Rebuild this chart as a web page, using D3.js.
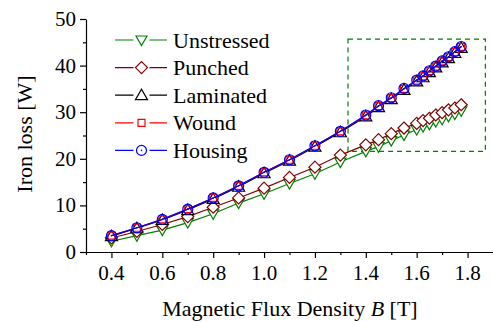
<!DOCTYPE html>
<html>
<head>
<meta charset="utf-8">
<script src="https://cdn.jsdelivr.net/npm/d3@7"></script>
<style>
  svg, svg text, svg tspan { font-family: 'Liberation Serif', 'Times New Roman', serif !important; }
</style>
</head>
<body style="margin:0">
<svg id="c" width="493" height="322" font-family="Liberation Serif"></svg>
<script>
// flux density values (T)
var fluxB = [0.4, 0.5, 0.6, 0.7, 0.8, 0.9, 1.0, 1.1, 1.2, 1.3, 1.4, 1.45, 1.5, 1.55, 1.6, 1.625, 1.65, 1.675, 1.7, 1.725, 1.75, 1.775];

// iron loss (W) per condition
var unstressed = [2.3, 3.5, 4.7, 6.3, 8.2, 10.5, 12.5, 14.7, 16.8, 19.3, 21.6, 22.6, 23.9, 25.1, 26.3, 26.9, 27.4, 28.0, 28.5, 29.1, 29.6, 30.3];
var punched    = [3.0, 4.4, 5.9, 7.6, 9.6, 11.6, 13.7, 16.0, 18.2, 20.8, 23.0, 24.1, 25.4, 26.6, 27.6, 28.2, 28.7, 29.4, 29.9, 30.5, 30.9, 31.6];
var laminated  = [3.4, 5.1, 6.9, 9.0, 11.4, 14.0, 16.9, 19.6, 22.6, 25.7, 29.1, 31.1, 32.8, 34.8, 36.6, 37.5, 38.6, 39.6, 40.7, 41.6, 42.7, 43.8];
var wound      = [3.5, 5.2, 7.0, 9.2, 11.6, 14.2, 17.1, 19.8, 22.8, 25.9, 29.3, 31.3, 33.0, 35.0, 36.8, 37.7, 38.8, 39.8, 40.9, 41.8, 42.9, 44.0];
var housing    = [3.5, 5.2, 7.0, 9.2, 11.6, 14.2, 17.1, 19.8, 22.8, 25.9, 29.4, 31.4, 33.1, 35.1, 36.9, 37.8, 38.9, 39.9, 41.0, 41.9, 43.0, 44.1];

var seriesNames = ['Unstressed', 'Punched', 'Laminated', 'Wound', 'Housing'];

var xTicks = [0.4, 0.6, 0.8, 1.0, 1.2, 1.4, 1.6, 1.8];
var yTicks = [0, 10, 20, 30, 40, 50];

// zoom box around the high-flux region (data coordinates)
var boxB = [1.33, 1.87];
var boxLoss = [21.6, 45.7];

var FONT = 'Liberation Serif';

var svg = d3.select('#c'),
    margin = {top: 19, right: 0, bottom: 70, left: 86},
    width = 493 - margin.left - margin.right,
    height = 322 - margin.top - margin.bottom;

function addText (parent, x, y, size, str) {
  return parent.append('text').attr('x', x).attr('y', y)
      .attr('font-size', size).attr('font-family', FONT).text(str);
}

var x = d3.scaleLinear().domain([0.3, 1.9]).range([0, width]);
var y = d3.scaleLinear().domain([0, 50]).range([height, 0]);

var g = svg.append('g').attr('transform', 'translate(' + margin.left + ',' + margin.top + ')');

var styles = [
  {name: seriesNames[0], data: unstressed, color: '#008000', marker: 'triDown'},
  {name: seriesNames[1], data: punched,    color: '#800000', marker: 'diamond'},
  {name: seriesNames[2], data: laminated,  color: '#000000', marker: 'triUp'},
  {name: seriesNames[3], data: wound,      color: '#ff0000', marker: 'square'},
  {name: seriesNames[4], data: housing,    color: '#0000ff', marker: 'circle'}
];

function markerPath (kind) {
  switch (kind) {
    case 'triDown': return 'M-5.5,-4L5.5,-4L0,5.5Z';
    case 'triUp':   return 'M-6,4.5L6,4.5L0,-6Z';
    case 'diamond': return 'M0,-6L6,0L0,6L-6,0Z';
    case 'square':  return 'M-3.5,-3.5H3.5V3.5H-3.5Z';
    default: return null;
  }
}

function drawMarker (sel, s) {
  if (s.marker === 'circle') {
    sel.append('circle').attr('r', 5)
      .attr('fill', 'none').attr('stroke', s.color).attr('stroke-width', 1.2);
    sel.append('circle').attr('r', 0.8).attr('fill', s.color);
  } else {
    sel.append('path').attr('d', markerPath(s.marker))
      .attr('fill', s.marker === 'square' ? 'none' : '#fff')
      .attr('stroke', s.color).attr('stroke-width', 1.2);
  }
}

// dashed zoom box
g.append('rect')
    .attr('x', x(boxB[0]))
    .attr('y', y(boxLoss[1]))
    .attr('width', x(boxB[1]) - x(boxB[0]))
    .attr('height', y(boxLoss[0]) - y(boxLoss[1]))
    .attr('fill', 'none')
    .attr('stroke', '#008000')
    .attr('stroke-width', 1.2)
    .attr('stroke-dasharray', '5,4');

// axes: tick marks from d3, labels as plain text
g.append('g')
    .attr('transform', 'translate(0,' + height + ')')
    .call(d3.axisBottom(x).tickValues(xTicks).tickSize(6).tickSizeOuter(0).tickFormat(''));
g.append('g')
    .attr('transform', 'translate(0,' + height + ')')
    .call(d3.axisBottom(x).tickValues([0.3, 0.5, 0.7, 0.9, 1.1, 1.3, 1.5, 1.7, 1.9]).tickSize(3).tickFormat(''))
    .select('.domain').remove();
g.append('g')
    .call(d3.axisLeft(y).tickValues(yTicks).tickSize(6).tickSizeOuter(0).tickFormat(''));
g.append('g')
    .call(d3.axisLeft(y).tickValues([5, 15, 25, 35, 45]).tickSize(3).tickFormat(''))
    .select('.domain').remove();
svg.selectAll('.domain, .tick line').attr('stroke', '#000').attr('stroke-width', 1.2);
// d3 puts sans-serif on axis groups; drop it
svg.selectAll('g').attr('font-family', null);

xTicks.forEach(function (t) {
  addText(g, x(t), height + 28, 21, d3.format('.1f')(t)).attr('text-anchor', 'middle');
});
yTicks.forEach(function (t) {
  addText(g, -10, y(t) + 7, 21, String(t)).attr('text-anchor', 'end');
});

// lines and markers
var line = d3.line()
    .x(function (d) { return x(d[0]); })
    .y(function (d) { return y(d[1]); });

styles.forEach(function (s) {
  var pts = fluxB.map(function (b, i) { return [b, s.data[i]]; });
  g.append('path')
      .attr('d', line(pts))
      .attr('fill', 'none')
      .attr('stroke', s.color)
      .attr('stroke-width', 1.2);
  var m = g.selectAll('.m-' + s.marker)
      .data(pts)
    .enter().append('g')
      .attr('class', 'm-' + s.marker)
      .attr('transform', function (d) { return 'translate(' + x(d[0]) + ',' + y(d[1]) + ')'; });
  drawMarker(m, s);
});

// legend
styles.forEach(function (s, i) {
  var row = svg.append('g').attr('transform', 'translate(115,' + (40 + i * 27.6) + ')');
  row.append('line').attr('x1', 0).attr('x2', 52).attr('y1', 0).attr('y2', 0)
      .attr('stroke', s.color).attr('stroke-width', 1.2);
  var mk = row.append('g').attr('transform', 'translate(26.5,0)');
  mk.append('rect').attr('x', -8).attr('y', -7).attr('width', 16).attr('height', 14).attr('fill', '#fff');
  drawMarker(mk, s);
  addText(row, 58, 7.5, 22, s.name);
});

// axis titles
var xt = addText(svg, 290, 316, 22, null).attr('text-anchor', 'middle');
xt.append('tspan').text('Magnetic Flux Density ');
xt.append('tspan').attr('font-style', 'italic').text('B');
xt.append('tspan').text(' [T]');

addText(svg, 0, 0, 22, 'Iron loss [W]')
    .attr('transform', 'translate(32,134) rotate(-90)')
    .attr('text-anchor', 'middle');
</script>
</body>
</html>
